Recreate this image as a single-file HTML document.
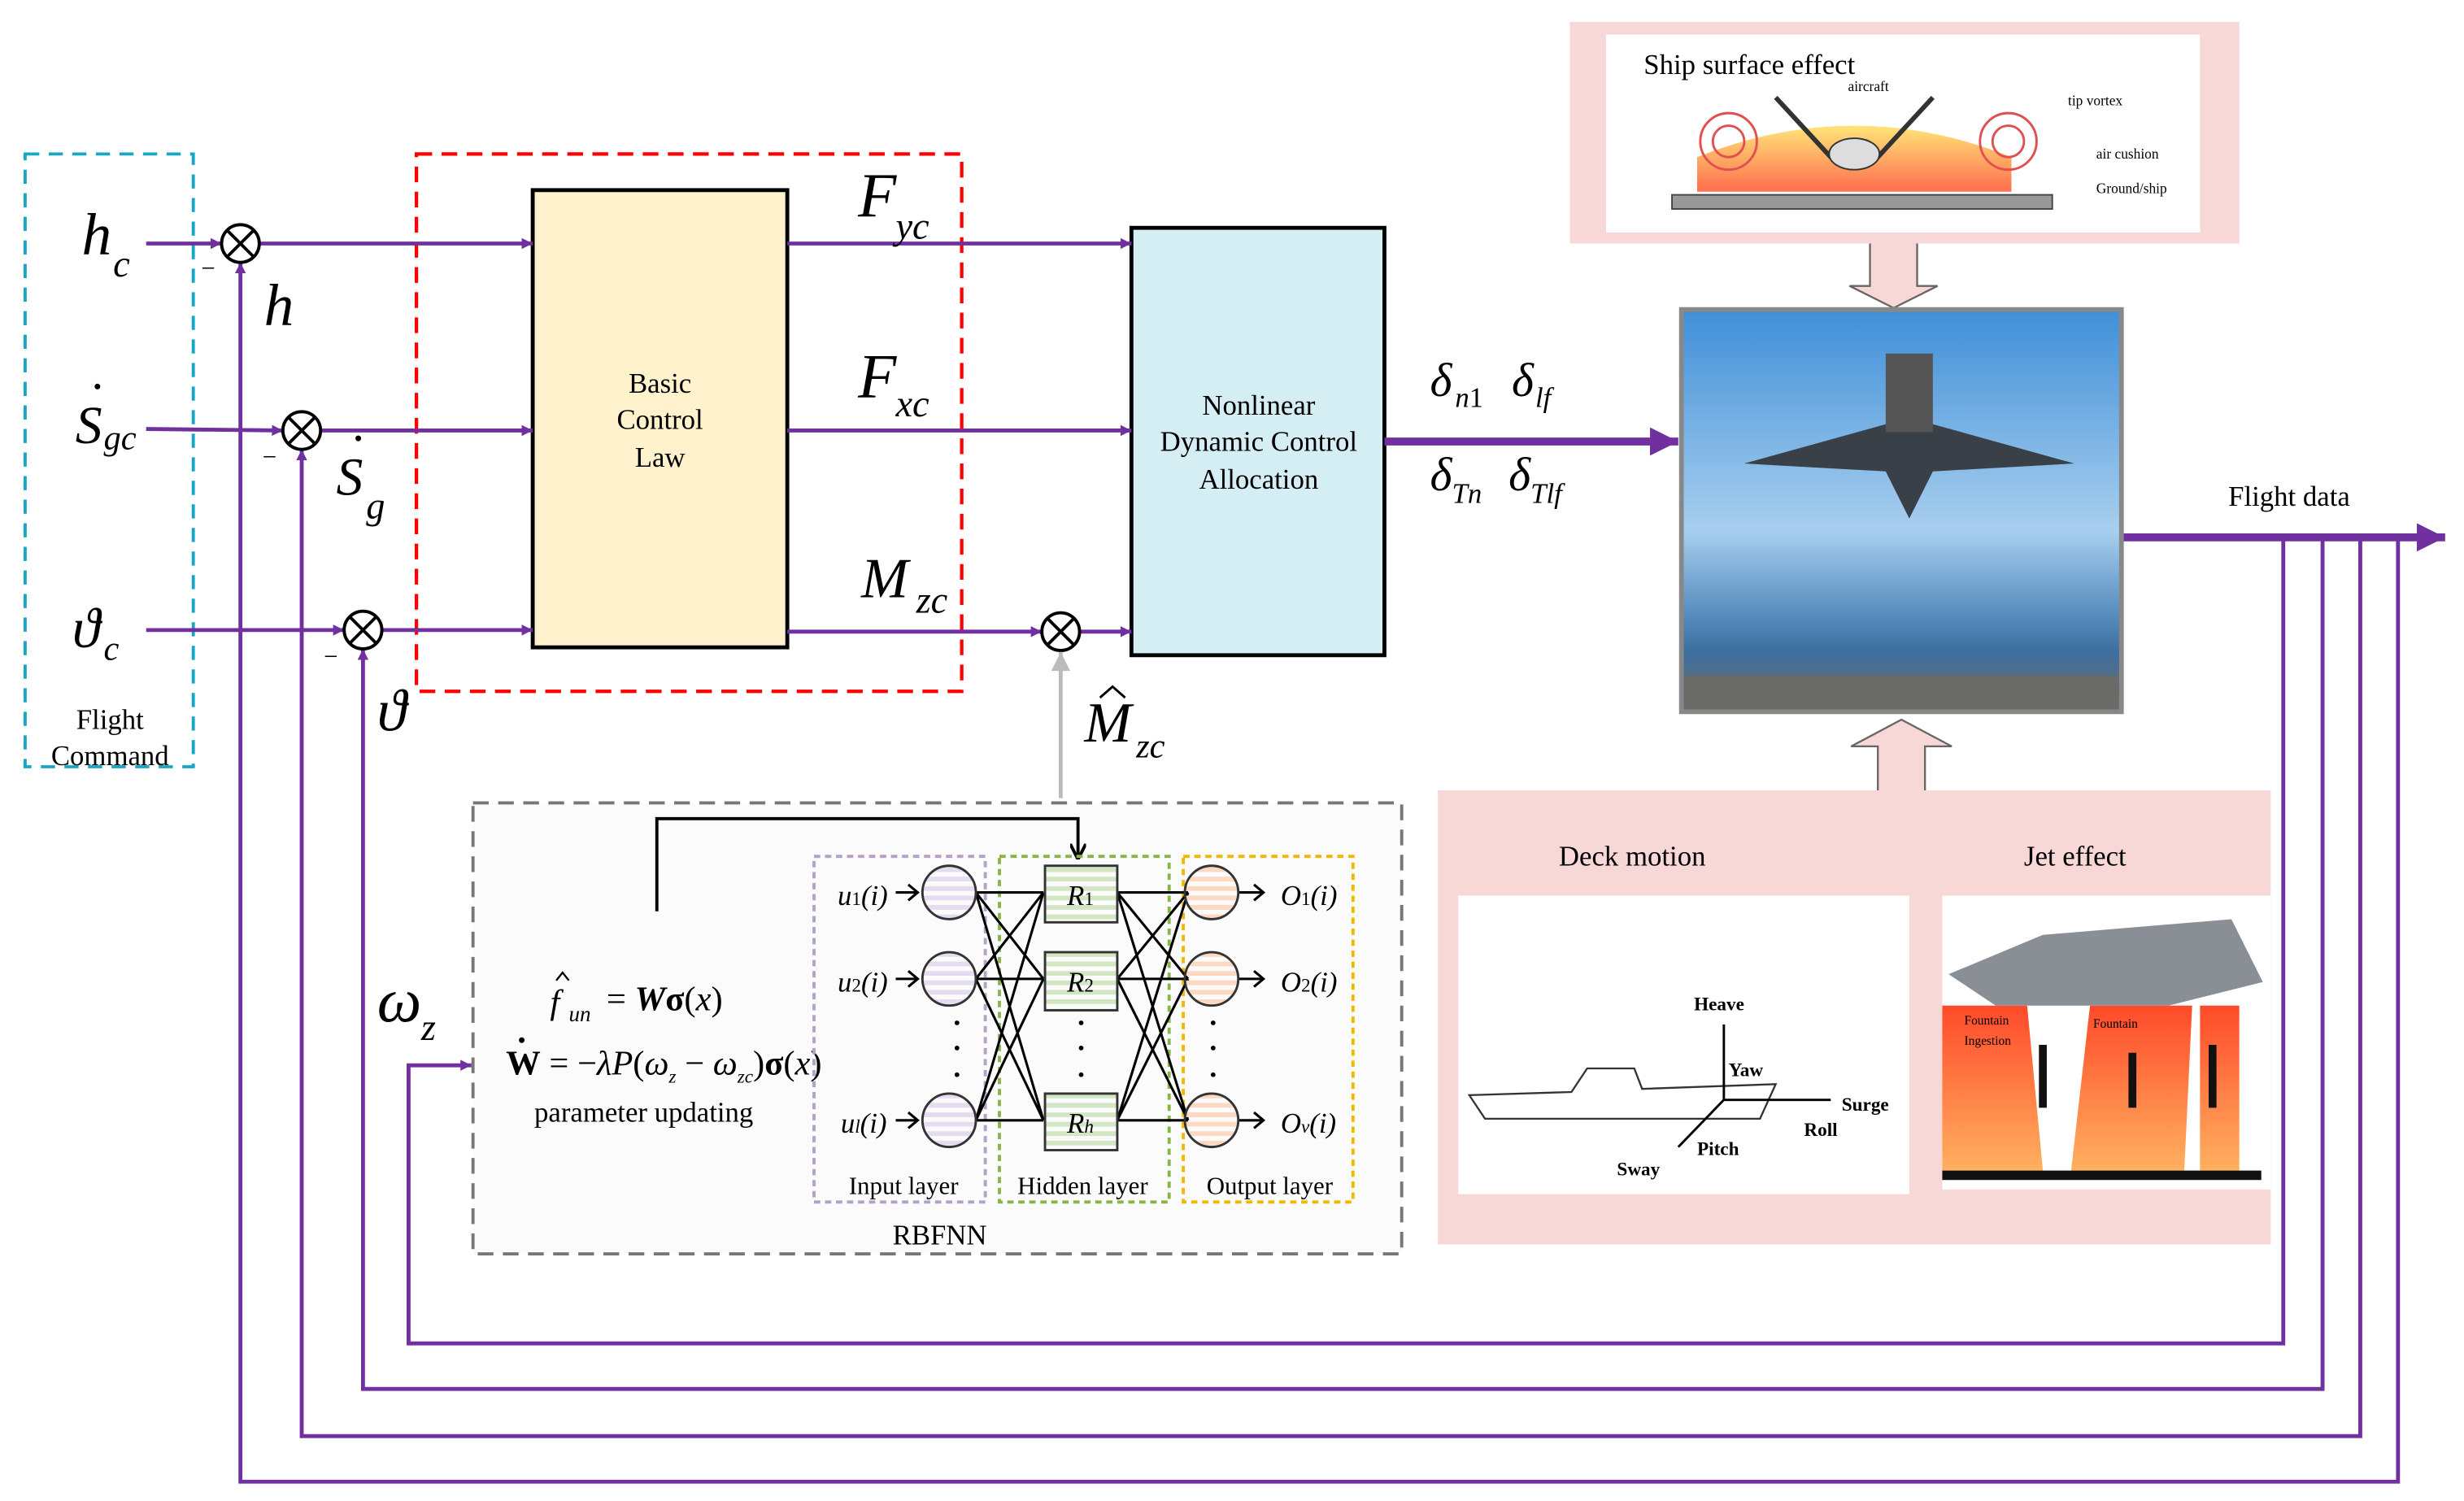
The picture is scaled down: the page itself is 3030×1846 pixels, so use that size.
<!DOCTYPE html>
<html><head><meta charset="utf-8"><style>
html,body{margin:0;padding:0;background:#fff;}
svg{display:block;}
text{font-family:"Liberation Serif",serif;}
</style></head><body>
<svg width="3030" height="1846" viewBox="0 0 1568 955.3" preserveAspectRatio="none" xmlns="http://www.w3.org/2000/svg">
<defs>
<marker id="pa" viewBox="0 0 10 10" refX="10" refY="5" markerWidth="7" markerHeight="7" markerUnits="userSpaceOnUse" orient="auto"><path d="M0,0L10,5L0,10z" fill="#7030a0"/></marker>
<marker id="pb" viewBox="0 0 10 10" refX="10" refY="5" markerWidth="22" markerHeight="18" markerUnits="userSpaceOnUse" orient="auto"><path d="M0,0L10,5L0,10z" fill="#7030a0"/></marker>
<marker id="ga" viewBox="0 0 10 10" refX="10" refY="5" markerWidth="14" markerHeight="12" markerUnits="userSpaceOnUse" orient="auto"><path d="M0,0L10,5L0,10z" fill="#bbb"/></marker>
<marker id="ka" viewBox="0 0 10 10" refX="10" refY="5" markerWidth="10" markerHeight="10" markerUnits="userSpaceOnUse" orient="auto"><path d="M0,0L10,5L0,10" fill="none" stroke="#000" stroke-width="2"/></marker>
<linearGradient id="sky" x1="0" y1="0" x2="0" y2="1"><stop offset="0" stop-color="#3f8fd8"/><stop offset="0.55" stop-color="#a8cfee"/><stop offset="0.75" stop-color="#5a8fc0"/><stop offset="0.85" stop-color="#3d6f9e"/><stop offset="1" stop-color="#6b6b6b"/></linearGradient>
<linearGradient id="fire" x1="0" y1="0" x2="0" y2="1"><stop offset="0" stop-color="#ff4a2a"/><stop offset="1" stop-color="#ffb060"/></linearGradient>
<linearGradient id="glow" x1="0" y1="0" x2="0" y2="1"><stop offset="0" stop-color="#ffe060"/><stop offset="1" stop-color="#ff5530"/></linearGradient>
<pattern id="hp" width="6" height="6" patternUnits="userSpaceOnUse"><rect width="6" height="3" fill="#e5dcef"/></pattern>
<pattern id="hg" width="6" height="6" patternUnits="userSpaceOnUse"><rect width="6" height="3" fill="#d3e6c4"/></pattern>
<pattern id="ho" width="6" height="6" patternUnits="userSpaceOnUse"><rect width="6" height="3" fill="#fcd9c0"/></pattern>
</defs>

<!-- Flight command -->
<rect x="16" y="98" width="107" height="390" fill="none" stroke="#17a6c4" stroke-width="2" stroke-dasharray="9,6"/>
<text x="70" y="464" font-size="18" text-anchor="middle">Flight</text>
<text x="70" y="487" font-size="18" text-anchor="middle">Command</text>
<text x="52" y="162" font-size="38" font-style="italic">h</text><text x="72" y="176" font-size="24" font-style="italic">c</text>
<text x="48" y="282" font-size="34" font-style="italic">S</text><circle cx="62" cy="246" r="1.8" fill="#000"/><text x="66" y="286" font-size="22" font-style="italic">gc</text>
<text x="46" y="412" font-size="36" font-style="italic">ϑ</text><text x="66" y="420" font-size="22" font-style="italic">c</text>

<!-- red box -->
<rect x="265" y="98" width="347" height="342" fill="none" stroke="#f00" stroke-width="2.2" stroke-dasharray="10,6"/>
<rect x="339" y="121" width="162" height="291" fill="#fff2cc" stroke="#000" stroke-width="2.5"/>
<text x="420" y="250" font-size="18" text-anchor="middle">Basic</text>
<text x="420" y="273" font-size="18" text-anchor="middle">Control</text>
<text x="420" y="297" font-size="18" text-anchor="middle">Law</text>

<rect x="720" y="145" width="161" height="272" fill="#d5eef3" stroke="#000" stroke-width="2.5"/>
<text x="801" y="264" font-size="18" text-anchor="middle">Nonlinear</text>
<text x="801" y="287" font-size="18" text-anchor="middle">Dynamic Control</text>
<text x="801" y="311" font-size="18" text-anchor="middle">Allocation</text>

<g stroke="#7030a0" stroke-width="2.5" fill="none">
<line x1="93" y1="155" x2="141" y2="155" marker-end="url(#pa)"/>
<line x1="165" y1="155" x2="339" y2="155" marker-end="url(#pa)"/>
<line x1="93" y1="273" x2="180" y2="274" marker-end="url(#pa)"/>
<line x1="204" y1="274" x2="339" y2="274" marker-end="url(#pa)"/>
<line x1="93" y1="401" x2="219" y2="401" marker-end="url(#pa)"/>
<line x1="243" y1="401" x2="339" y2="401" marker-end="url(#pa)"/>
<line x1="501" y1="155" x2="720" y2="155" marker-end="url(#pa)"/>
<line x1="501" y1="274" x2="720" y2="274" marker-end="url(#pa)"/>
<line x1="501" y1="402" x2="663" y2="402" marker-end="url(#pa)"/>
<line x1="687" y1="402" x2="720" y2="402" marker-end="url(#pa)"/>
<line x1="881" y1="281" x2="1068" y2="281" stroke-width="5" marker-end="url(#pb)"/>
<line x1="1346" y1="342" x2="1556" y2="342" stroke-width="5" marker-end="url(#pb)"/>
<polyline points="1453,342 1453,855 260,855 260,678 300,678" marker-end="url(#pa)"/>
<polyline points="1478,342 1478,884 231,884 231,413" marker-end="url(#pa)"/>
<polyline points="1502,342 1502,914 192,914 192,286" marker-end="url(#pa)"/>
<polyline points="1526,342 1526,943 153,943 153,167" marker-end="url(#pa)"/>
</g>
<g stroke="#000" stroke-width="2" fill="#fff">
<circle cx="153" cy="155" r="12"/><path d="M144.5,146.5l17,17M161.5,146.5l-17,17"/>
<circle cx="192" cy="274" r="12"/><path d="M183.5,265.5l17,17M200.5,265.5l-17,17"/>
<circle cx="231" cy="401" r="12"/><path d="M222.5,392.5l17,17M239.5,392.5l-17,17"/>
<circle cx="675" cy="402" r="12"/><path d="M666.5,393.5l17,17M683.5,393.5l-17,17"/>
</g>
<g font-size="16"><text x="128" y="176">−</text><text x="167" y="296">−</text><text x="206" y="423">−</text></g>
<text x="168" y="207" font-size="38" font-style="italic">h</text>
<text x="214" y="315" font-size="34" font-style="italic">S</text><circle cx="228" cy="279" r="1.8" fill="#000"/><text x="233" y="330" font-size="24" font-style="italic">g</text>
<text x="240" y="465" font-size="38" font-style="italic">ϑ</text>
<text x="546" y="138" font-size="40" font-style="italic">F</text><text x="570" y="152" font-size="24" font-style="italic">yc</text>
<text x="546" y="253" font-size="40" font-style="italic">F</text><text x="570" y="265" font-size="24" font-style="italic">xc</text>
<text x="548" y="380" font-size="36" font-style="italic">M</text><text x="583" y="390" font-size="24" font-style="italic">zc</text>
<text x="910" y="252" font-size="30" font-style="italic">δ</text><text x="926" y="259" font-size="18" font-style="italic">n</text><text x="935" y="259" font-size="18">1</text>
<text x="962" y="252" font-size="30" font-style="italic">δ</text><text x="977" y="259" font-size="18" font-style="italic">lf</text>
<text x="910" y="312" font-size="30" font-style="italic">δ</text><text x="924" y="320" font-size="18" font-style="italic">Tn</text>
<text x="960" y="312" font-size="30" font-style="italic">δ</text><text x="974" y="320" font-size="18" font-style="italic">Tlf</text>
<text x="1418" y="322" font-size="18">Flight data</text>

<!-- Mhat -->
<line x1="675" y1="508" x2="675" y2="415" stroke="#bbb" stroke-width="2.5" marker-end="url(#ga)"/>
<text x="690" y="472" font-size="36" font-style="italic">M</text><path d="M700,444 L708,437 L716,444" fill="none" stroke="#000" stroke-width="1.5"/><text x="723" y="482" font-size="22" font-style="italic">zc</text>
<text x="240" y="650" font-size="40" font-style="italic">ω</text><text x="268" y="662" font-size="24" font-style="italic">z</text>

<!-- RBFNN -->
<rect x="301" y="511" width="591" height="287" fill="#fbfbfb" stroke="#777" stroke-width="2" stroke-dasharray="10,6"/>
<polyline points="418,580 418,521 686,521 686,547" fill="none" stroke="#000" stroke-width="2" marker-end="url(#ka)"/>
<text x="350" y="645" font-size="22" font-style="italic">f</text><path d="M354,624 L358,619 L362,624" fill="none" stroke="#000" stroke-width="1.2"/><text x="362" y="650" font-size="14" font-style="italic">un</text>
<text x="386" y="643" font-size="22">= <tspan font-weight="bold" font-style="italic">W</tspan><tspan font-weight="bold">σ</tspan>(<tspan font-style="italic">x</tspan>)</text>
<text x="322" y="684" font-size="22"><tspan font-weight="bold">W</tspan> = −<tspan font-style="italic">λP</tspan>(<tspan font-style="italic">ω</tspan><tspan font-size="12" font-style="italic" dy="5">z</tspan><tspan dy="-5"> − </tspan><tspan font-style="italic">ω</tspan><tspan font-size="12" font-style="italic" dy="5">zc</tspan><tspan dy="-5">)</tspan><tspan font-weight="bold">σ</tspan>(<tspan font-style="italic">x</tspan>)</text>
<circle cx="332" cy="662" r="1.8" fill="#000"/>
<text x="340" y="714" font-size="18">parameter updating</text>
<rect x="518" y="545" width="109" height="220" fill="none" stroke="#b4a0c8" stroke-width="2" stroke-dasharray="4,3"/>
<rect x="636" y="545" width="108" height="220" fill="none" stroke="#8ab34a" stroke-width="2" stroke-dasharray="4,3"/>
<rect x="753" y="545" width="108" height="220" fill="none" stroke="#f0b800" stroke-width="2" stroke-dasharray="4,3"/>
<g stroke="#000" stroke-width="1.6" fill="none">
<path d="M621,568L664,568M621,568L664,623M621,568L664,713M621,623L664,568M621,623L664,623M621,623L664,713M621,713L664,568M621,713L664,623M621,713L664,713"/>
<path d="M711,568L756,568M711,568L756,623M711,568L756,713M711,623L756,568M711,623L756,623M711,623L756,713M711,713L756,568M711,713L756,623M711,713L756,713"/>
<path d="M570,568h14M570,623h14M570,713h14M788,568h16M788,623h16M788,713h16"/>
<path d="M578,563l6,5l-6,5M578,618l6,5l-6,5M578,708l6,5l-6,5M798,563l6,5l-6,5M798,618l6,5l-6,5M798,708l6,5l-6,5"/>
</g>
<g stroke="#333" stroke-width="1.5">
<ellipse cx="604" cy="568" rx="17" ry="17" fill="url(#hp)"/><ellipse cx="604" cy="623" rx="17" ry="17" fill="url(#hp)"/><ellipse cx="604" cy="713" rx="17" ry="17" fill="url(#hp)"/>
<rect x="665" y="551" width="46" height="36" fill="url(#hg)"/><rect x="665" y="606" width="46" height="37" fill="url(#hg)"/><rect x="665" y="696" width="46" height="36" fill="url(#hg)"/>
<ellipse cx="771" cy="568" rx="17" ry="17" fill="url(#ho)"/><ellipse cx="771" cy="623" rx="17" ry="17" fill="url(#ho)"/><ellipse cx="771" cy="713" rx="17" ry="17" fill="url(#ho)"/>
</g>
<g font-size="18" font-style="italic">
<text x="533" y="576">u<tspan font-size="12" font-style="normal">1</tspan>(i)</text>
<text x="533" y="631">u<tspan font-size="12" font-style="normal">2</tspan>(i)</text>
<text x="535" y="721">u<tspan font-size="12">l</tspan>(i)</text>
<text x="679" y="576">R<tspan font-size="12" font-style="normal">1</tspan></text>
<text x="679" y="631">R<tspan font-size="12" font-style="normal">2</tspan></text>
<text x="679" y="721">R<tspan font-size="12">h</tspan></text>
<text x="815" y="576">O<tspan font-size="12" font-style="normal">1</tspan>(i)</text>
<text x="815" y="631">O<tspan font-size="12" font-style="normal">2</tspan>(i)</text>
<text x="815" y="721">O<tspan font-size="12">v</tspan>(i)</text>
</g>
<g fill="#000"><circle cx="609" cy="651" r="1.5"/><circle cx="609" cy="667" r="1.5"/><circle cx="609" cy="684" r="1.5"/>
<circle cx="688" cy="651" r="1.5"/><circle cx="688" cy="667" r="1.5"/><circle cx="688" cy="684" r="1.5"/>
<circle cx="772" cy="651" r="1.5"/><circle cx="772" cy="667" r="1.5"/><circle cx="772" cy="684" r="1.5"/></g>
<text x="575" y="760" font-size="16" text-anchor="middle">Input layer</text>
<text x="689" y="760" font-size="16" text-anchor="middle">Hidden layer</text>
<text x="808" y="760" font-size="16" text-anchor="middle">Output layer</text>
<text x="598" y="792" font-size="18" text-anchor="middle">RBFNN</text>

<!-- Ship surface effect -->
<rect x="999" y="14" width="426" height="141" fill="#f8d7d7"/>
<rect x="1022" y="22" width="378" height="126" fill="#fff"/>
<text x="1046" y="47" font-size="18">Ship surface effect</text>
<path d="M1080,100 Q1180,60 1280,100 L1280,122 L1080,122z" fill="url(#glow)" opacity="0.85"/>
<rect x="1064" y="124" width="242" height="9" fill="#999" stroke="#444"/>
<g fill="none" stroke="#e05050" stroke-width="1.5"><circle cx="1100" cy="90" r="18"/><circle cx="1100" cy="90" r="10"/><circle cx="1278" cy="90" r="18"/><circle cx="1278" cy="90" r="10"/></g>
<path d="M1130,62 L1165,100 L1195,100 L1230,62" fill="none" stroke="#333" stroke-width="3"/>
<ellipse cx="1180" cy="98" rx="16" ry="10" fill="#ddd" stroke="#333"/>
<g font-size="9"><text x="1176" y="58">aircraft</text><text x="1316" y="67">tip vortex</text><text x="1334" y="101">air cushion</text><text x="1334" y="123">Ground/ship</text></g>
<path d="M1190,155 V182 H1177 L1205,196 L1233,182 H1220 V155" fill="#f8d7d7" stroke="#666" stroke-width="1.2"/>

<!-- photo -->
<rect x="1070" y="197" width="280" height="256" fill="url(#sky)" stroke="#888" stroke-width="3"/>
<path d="M1110,295 L1200,270 L1215,225 L1230,270 L1320,295 L1230,300 L1215,330 L1200,300z" fill="#3a4048"/>
<rect x="1200" y="225" width="30" height="50" fill="#555"/>
<rect x="1072" y="430" width="276" height="21" fill="#6a6a66"/>

<!-- bottom panel -->
<path d="M1195,503 V475 H1178 L1210,458 L1242,475 H1225 V503" fill="#f8d7d7" stroke="#666" stroke-width="1.2"/>
<rect x="915" y="503" width="530" height="289" fill="#f8d7d7"/>
<text x="992" y="551" font-size="18">Deck motion</text>
<text x="1288" y="551" font-size="18">Jet effect</text>
<rect x="928" y="570" width="287" height="190" fill="#fff"/>
<path d="M935,697 L1000,695 L1010,680 L1040,680 L1045,693 L1130,690 L1120,712 L945,712z" fill="#fff" stroke="#333" stroke-width="1.2"/>
<g stroke="#000" stroke-width="1.5" fill="none"><line x1="1097" y1="700" x2="1097" y2="652"/><line x1="1097" y1="700" x2="1165" y2="700"/><line x1="1097" y1="700" x2="1068" y2="730"/></g>
<g font-size="12" font-weight="bold"><text x="1078" y="643">Heave</text><text x="1100" y="685">Yaw</text><text x="1172" y="707">Surge</text><text x="1148" y="723">Roll</text><text x="1080" y="735">Pitch</text><text x="1029" y="748">Sway</text></g>
<rect x="1236" y="570" width="209" height="187" fill="#fff"/>
<path d="M1236,640 L1290,640 L1300,745 L1236,745z M1330,640 L1395,640 L1390,745 L1318,745z M1400,640 L1425,640 L1425,745 L1400,745z" fill="url(#fire)"/>
<path d="M1240,620 L1300,595 L1420,585 L1440,625 L1380,640 L1270,640z" fill="#8a8f95"/>
<rect x="1236" y="745" width="203" height="6" fill="#111"/>
<g stroke="#111" stroke-width="5"><line x1="1300" y1="665" x2="1300" y2="705"/><line x1="1357" y1="705" x2="1357" y2="670"/><line x1="1408" y1="665" x2="1408" y2="705"/></g>
<g font-size="8"><text x="1250" y="652">Fountain</text><text x="1250" y="665">Ingestion</text><text x="1332" y="654">Fountain</text></g>
</svg>
</body></html>
